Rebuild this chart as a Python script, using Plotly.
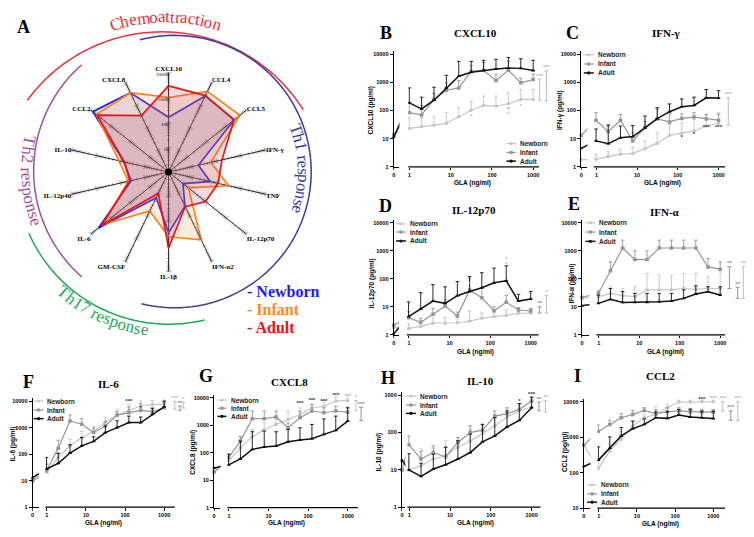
import numpy as np
import plotly.graph_objects as go

W, H = 754, 537
OFF = 8  # page body margin of the browser
FW, FH = W - OFF, H - OFF
SANS = "Liberation Sans, Arial, sans-serif"
SERIF = "Liberation Serif, Times New Roman, serif"

# ---------------- data: radar (panel A) ----------------
radar_categories = ["CXCL10", "CCL4", "CCL5", "IFN-γ", "TNF", "IL-12p70", "IFN-α2", "IL-1β",
                    "GM-CSF", "IL-6", "IL-12p40", "IL-10", "CCL2", "CXCL8"]
radar_newborn = [160, 2500, 2400, 17, 52, 5.5, 33, 280, 14, 4000, 35, 70, 7900, 3500]
radar_infant = [1000, 4000, 4600, 56, 300, 10.5, 1050, 400, 55, 2400, 46, 112, 5200, 3500]
radar_adult = [2950, 2600, 2300, 160, 110, 80, 35, 1120, 9, 2900, 40, 66, 4700, 330]
radar_ticks = [10, 100, 1000, 10000]

# ---------------- data: dose-response panels ----------------
doses = [0.98, 1.95, 3.9, 7.8, 15.6, 31.25, 62.5, 125, 250, 500, 1000]

cxcl10_newborn = [23, 27, 30, 35, 60, 102, 150, 142, 172, 245, 245]
cxcl10_newborn_top = [55, 55, 62, 83, 125, 210, 320, 320, 420, 550, 550]
cxcl10_infant = [83, 69, 245, 520, 630, 2450, 2650, 1150, 2650, 950, 1240]
cxcl10_infant_top = [190, 150, 400, 950, 1150, 4000, 5000, 1900, 5500, 1400, 1900]
cxcl10_adult = [186, 114, 230, 630, 1630, 2250, 2650, 2950, 3200, 3100, 2600]
cxcl10_adult_top = [630, 295, 665, 1770, 5500, 5500, 6000, 6500, 7500, 6800, 6000]
cxcl10_zero = [15, 13, 11]
cxcl10_stars = [(250, 108, '*', 'i'), (250, 72, '*', 'n'), (500, 142, '*', 'n'), (31.25, 63, '*', 'n')]
cxcl10_brackets = [(1430, 230, 1300, '***', 'n'), (2100, 220, 2500, '***', 'n')]

ifng_newborn = [1.86, 2.3, 2.8, 2.95, 4.4, 6.9, 13, 15.4, 18.7, 28, 35]
ifng_newborn_top = [2.8, 3.4, 4.2, 4.8, 8.3, 16, 32, 36, 48, 72, 83]
ifng_infant = [45, 17.7, 45, 8.3, 25, 50, 39, 52, 58, 50, 45]
ifng_infant_top = [83, 30, 72, 16, 40, 110, 76, 76, 83, 72, 72]
ifng_adult = [8.3, 6.6, 10.8, 11.8, 24, 51, 90, 135, 150, 280, 275]
ifng_adult_top = [22, 30, 28, 29, 63, 125, 170, 255, 295, 550, 500]
ifng_zero = [1.8, 13, 4.5]
ifng_stars = [(125, 11, '*', 'a'), (250, 14, '*', 'a'), (500, 24, '***', 'a'), (1000, 24, '***', 'a')]
ifng_brackets = [(1740, 30, 280, '***', 'n')]

il12_newborn = [1.7, 2.0, 2.6, 2.6, 2.7, 3.1, 3.9, 4.5, 4.9, 5.9, 5.9]
il12_newborn_top = [2.5, 2.8, 4.1, 4.1, 4.1, 7.1, 6, 6.5, 7.7, 8.8, 8.8]
il12_infant = [4.1, 2.8, 5.4, 10.7, 4.7, 40, 21, 7.3, 14.5, 7.7, 7.1]
il12_infant_top = [6.7, 3.9, 8.8, 17.5, 6.5, 100, 45, 10, 26, 9.4, 8.8]
il12_adult = [4.5, 8.4, 16, 13.3, 25, 35, 48, 72, 85, 16, 19]
il12_adult_top = [15, 32, 62, 52, 80, 120, 165, 240, 290, 28, 35]
il12_zero = [1.8, 2.2, 1.1]
il12_stars = [(31.25, 63, '*', 'n'), (250, 500, '*', 'n'), (250, 330, '*', 'n')]
il12_brackets = [(1660, 6, 10, '**', 'i'), (2450, 6, 25, '*', 'n')]

ifna_newborn = [23, 30, 25, 23, 40, 40, 40, 45, 42, 45, 45]
ifna_newborn_top = [40, 52, 45, 52, 155, 135, 135, 155, 155, 118, 175]
ifna_infant = [30, 192, 1260, 485, 485, 1260, 1260, 1260, 1260, 265, 220]
ifna_infant_top = [36, 400, 2400, 1000, 1000, 2400, 2400, 2400, 2400, 530, 400]
ifna_adult = [13.3, 18.5, 14.4, 14.4, 14.4, 15.2, 16, 20, 28.6, 34.6, 26.3]
ifna_adult_top = [26, 45, 35, 30, 30, 30, 30, 40, 56, 52, 52]
ifna_zero = [20, 22, 11]
ifna_stars = []
ifna_brackets = [(1690, 45, 270, '**', 'i'), (2700, 20, 50, '**', 'i'), (3730, 20, 270, '**', 'n')]

il6_newborn = [20.5, 75, 205, 420, 710, 1630, 2970, 4470, 6500, 7500, 7500]
il6_newborn_top = [31, 115, 365, 710, 1100, 2500, 4900, 7500, 10000, 10500, 10800]
il6_infant = [23.7, 168, 1780, 1330, 650, 1150, 2970, 3650, 4470, 3980, 5600]
il6_infant_top = [42, 335, 3000, 2150, 950, 1680, 4000, 6000, 8000, 5600, 9000]
il6_adult = [27.4, 45, 110, 205, 300, 650, 1000, 1550, 1550, 3160, 6000]
il6_adult_top = [75, 105, 225, 420, 450, 1150, 1800, 2700, 2500, 5300, 10000]
il6_zero = [9.5, 10, 13]
il6_stars = [(125, 9400, '***', 'a'), (250, 23000, '***', 'a'), (250, 14000, '**', 'n'),
             (500, 23000, '***', 'a'), (500, 14000, '***', 'n'), (1000, 14500, '***', 'n'), (250, 5300, '*', 'a')]
il6_brackets = [(1870, 5000, 9500, '***', 'n'), (2520, 4500, 6500, '**', 'i'), (3080, 5500, 9000, '*', 'n')]

cxcl8_newborn = [50, 150, 380, 700, 1070, 1630, 2450, 4300, 4900, 7600, 8000]
cxcl8_newborn_top = [75, 400, 700, 1230, 1630, 3300, 4300, 5700, 8000, 10800, 13000]
cxcl8_infant = [66, 265, 1730, 1730, 2000, 810, 1870, 3300, 2850, 3300, 3000]
cxcl8_infant_top = [92, 380, 3300, 3300, 3300, 1230, 3300, 5700, 4300, 4900, 4600]
cxcl8_adult = [36, 60, 132, 160, 175, 250, 290, 325, 465, 650, 1420]
cxcl8_adult_top = [87, 265, 580, 610, 580, 700, 810, 1070, 1700, 2150, 4300]
cxcl8_zero = [20, 20, 28]
cxcl8_stars = [(62.5, 6000, '***', 'a'), (125, 8000, '***', 'a'), (250, 7500, '***', 'a'),
               (500, 12500, '***', 'a'), (1000, 17000, '***', 'a'), (1000, 11000, '***', 'n')]
cxcl8_brackets = [(2180, 1500, 4500, '***', 'i'), (1630, 3500, 8000, '*', 'n')]

il10_newborn = [9.9, 12.9, 19.4, 23.7, 40, 59, 93, 150, 260, 375, 480]
il10_newborn_top = [17, 36, 38, 60, 73, 120, 165, 275, 415, 590, 690]
il10_infant = [46.6, 19.4, 29, 22.4, 54, 99, 115, 275, 318, 415, 690]
il10_infant_top = [80, 31, 44, 41, 73, 150, 150, 375, 460, 590, 880]
il10_adult = [9.9, 6.7, 10.5, 13.7, 19.4, 29, 56, 81, 141, 210, 460]
il10_adult_top = [27, 15, 26, 40, 60, 90, 165, 250, 375, 590, 880]
il10_zero = [9.5, 10, 18]
il10_stars = [(500, 690, '*', 'a'), (1000, 1040, '***', 'a')]
il10_brackets = [(1510, 380, 650, '**', 'i'), (2190, 350, 700, '**', 'n')]

ccl2_newborn = [132, 410, 880, 2100, 3550, 4400, 6800, 9800, 9800, 10000, 10000]
ccl2_newborn_top = [220, 635, 1440, 2850, 4400, 7500, 8500, 11000, 11000, 11000, 11000]
ccl2_infant = [1440, 2300, 3550, 4400, 5700, 4600, 5200, 5500, 5200, 5100, 5100]
ccl2_infant_top = [2200, 3000, 4600, 5700, 6800, 6000, 6800, 6800, 6500, 6100, 6100]
ccl2_adult = [226, 490, 1090, 1740, 2300, 3550, 3400, 4250, 3700, 3550, 3350]
ccl2_adult_top = [535, 1020, 1870, 2850, 3300, 5200, 5200, 6100, 6100, 5400, 5400]
ccl2_zero = [600, 600, 150]
ccl2_stars = [(500, 11700, '***', 'a'), (1000, 18000, '***', 'a'), (1000, 12000, '***', 'n')]
ccl2_brackets = [(1770, 5500, 10000, '***', 'n'), (2860, 3000, 5500, '***', 'i'), (4370, 3000, 10000, '***', 'n')]

panel_series = [
    (cxcl10_newborn, cxcl10_newborn_top, cxcl10_infant, cxcl10_infant_top, cxcl10_adult, cxcl10_adult_top, cxcl10_zero),
    (ifng_newborn, ifng_newborn_top, ifng_infant, ifng_infant_top, ifng_adult, ifng_adult_top, ifng_zero),
    (il12_newborn, il12_newborn_top, il12_infant, il12_infant_top, il12_adult, il12_adult_top, il12_zero),
    (ifna_newborn, ifna_newborn_top, ifna_infant, ifna_infant_top, ifna_adult, ifna_adult_top, ifna_zero),
    (il6_newborn, il6_newborn_top, il6_infant, il6_infant_top, il6_adult, il6_adult_top, il6_zero),
    (cxcl8_newborn, cxcl8_newborn_top, cxcl8_infant, cxcl8_infant_top, cxcl8_adult, cxcl8_adult_top, cxcl8_zero),
    (il10_newborn, il10_newborn_top, il10_infant, il10_infant_top, il10_adult, il10_adult_top, il10_zero),
    (ccl2_newborn, ccl2_newborn_top, ccl2_infant, ccl2_infant_top, ccl2_adult, ccl2_adult_top, ccl2_zero),
]
panel_stars = [cxcl10_stars, ifng_stars, il12_stars, ifna_stars, il6_stars, cxcl8_stars, il10_stars, ccl2_stars]
panel_brackets = [cxcl10_brackets, ifng_brackets, il12_brackets, ifna_brackets, il6_brackets,
                  cxcl8_brackets, il10_brackets, ccl2_brackets]
panel_titles = ["CXCL10", "IFN-γ", "IL-12p70", "IFN-α", "IL-6", "CXCL8", "IL-10", "CCL2"]
panel_ytitles = ["CXCL10 (pg/ml)", "IFN-γ (pg/ml)", "IL-12p70 (pg/ml)", "IFN-α (pg/ml)",
                 "IL-6 (pg/ml)", "CXCL8 (pg/ml)", "IL-10 (pg/ml)", "CCL2 (pg/ml)"]
panel_letters = ["B", "C", "D", "E", "F", "G", "H", "I"]
group_names = ["Newborn", "Infant", "Adult"]

# ---------------- layout geometry (pixels in the 754x537 picture) ----------------
geom = [
    dict(yax=392.7, ybot=167.7, ytop=54.3, ylo=0, yhi=4, x1=408.7, dx=41.3, xs=407.3, xe=538.3, xr=549, zend=398.5,
         title=(475, 33), letter=(385, 33), ytl=(370, 111), xtl=(471.7, 183.5), leg=(505.7, 515.3, 517.3, [144.3, 153.3, 162.0])),
    dict(yax=580.7, ybot=167.7, ytop=54.3, ylo=0, yhi=4, x1=596, dx=40.8, xs=593.5, xe=725, xr=733, zend=587,
         title=(666, 33), letter=(571.7, 33), ytl=(560, 111), xtl=(662.7, 183.5), leg=(583.3, 593.3, 595.7, [55, 64.3, 73.3])),
    dict(yax=392.7, ybot=336.7, ytop=224, ylo=0, yhi=4, x1=408, dx=40.7, xs=406, xe=538, xr=549, zend=398,
         title=(473.3, 211), letter=(385, 206.7), ytl=(371.7, 285), xtl=(475, 354), leg=(395, 405, 407.3, [225, 233.3, 242.3])),
    dict(yax=581.5, ybot=336.7, ytop=224, ylo=0, yhi=4, x1=598.3, dx=40.6, xs=596, xe=725, xr=747, zend=589,
         title=(665, 213.3), letter=(573.3, 205), ytl=(571.7, 285), xtl=(665, 354), leg=(585, 595, 596.7, [224, 233.3, 242.7])),
    dict(yax=30.7, ybot=510, ytop=403.3, ylo=0, yhi=4, x1=45, dx=39.2, xs=43.5, xe=173.3, xr=185, zend=37,
         title=(106.7, 386), letter=(26.7, 384), ytl=(11, 446), xtl=(101.7, 526), leg=(31.7, 41.7, 43.3, [403.3, 412.3, 421])),
    dict(yax=212.7, ybot=510.5, ytop=400, ylo=0, yhi=4, x1=227.5, dx=39.7, xs=226, xe=356.7, xr=366, zend=219,
         title=(288.3, 384), letter=(205, 378.3), ytl=(191.7, 455), xtl=(285, 526.3), leg=(216, 225, 227.3, [402.3, 410.5, 418.7])),
    dict(yax=401, ybot=510, ytop=397.3, ylo=0, yhi=3, x1=408.3, dx=40.9, xs=406.5, xe=540, xr=549, zend=404.5,
         title=(480, 382.7), letter=(386.7, 380), ytl=(378, 455), xtl=(475, 526), leg=(405, 415, 417.3, [398.3, 407.3, 415.7])),
    dict(yax=583.3, ybot=511, ytop=404, ylo=1, yhi=4, x1=598.3, dx=38.3, xs=597, xe=725, xr=741, zend=590,
         title=(660, 378.3), letter=(576.7, 378.3), ytl=(565, 455), xtl=(660, 526.7), leg=(586.7, 596.7, 599, [487.7, 496.7, 505])),
]

series_style = [dict(color="#c6c6c6", symbol="circle", width=1.2),
                dict(color="#969696", symbol="square", width=1.2),
                dict(color="#111111", symbol="triangle-up", width=1.5)]
sig_colors = {'n': '#b8b8b8', 'i': '#8a8a8a', 'a': '#333333'}


def X(px):
    return (px - OFF) / FW


def Y(py):
    return 1 - (py - OFF) / FH


fig = go.Figure()
shapes, annotations = [], []
layout = dict(width=FW, height=FH, autosize=False, margin=dict(l=0, r=0, t=0, b=0),
              paper_bgcolor="white", plot_bgcolor="rgba(0,0,0,0)", showlegend=False)

# ---------------- panel A: radar ----------------
radar_styles = [("#1d1de6", "rgba(90,80,200,0.16)"), ("#ff7f1a", "rgba(255,160,90,0.2)"),
                ("#e8151b", "rgba(180,70,110,0.2)")]
theta_closed = radar_categories + [radar_categories[0]]
for vals, (lc, fc) in zip([radar_newborn, radar_infant, radar_adult], radar_styles):
    fig.add_trace(go.Scatterpolar(r=list(vals) + [vals[0]], theta=theta_closed, mode="lines", fill="toself",
                                  fillcolor=fc, line=dict(color=lc, width=1.7), subplot="polar", hoverinfo="skip"))

tick_r = [m * 10 ** k for k in range(4) for m in range(1, 10)][1:] + [10000]
tt, rr, aa, ss = [], [], [], []
nc = len(radar_categories)
for i, c in enumerate(radar_categories):
    for r in tick_r:
        tt.append(c)
        rr.append(r)
        aa.append(i * 360.0 / nc)
        ss.append(4 if np.isclose(np.log10(r) % 1, 0) else 2.5)
fig.add_trace(go.Scatterpolar(r=rr, theta=tt, mode="markers", subplot="polar", hoverinfo="skip",
                              marker=dict(symbol="line-ew", size=ss, angle=aa, color="#333",
                                          line=dict(width=0.5, color="#333"))))
fig.add_trace(go.Scatterpolar(r=[1], theta=[radar_categories[0]], mode="markers", subplot="polar",
                              marker=dict(size=7, color="black"), hoverinfo="skip"))
fig.add_trace(go.Scatterpolar(r=radar_ticks, theta=[radar_categories[0]] * len(radar_ticks), mode="text",
                              text=[str(v) for v in radar_ticks], textposition="bottom left", subplot="polar",
                              textfont=dict(family=SERIF, size=5, color="black"), hoverinfo="skip"))

layout["polar"] = dict(
    domain=dict(x=[X(67), X(267)], y=[Y(273), Y(73)]),
    bgcolor="rgba(0,0,0,0)",
    angularaxis=dict(type="category", categoryorder="array", categoryarray=radar_categories,
                     direction="clockwise", rotation=90, showgrid=True, gridcolor="#222", gridwidth=0.8,
                     showline=False, ticks="", tickfont=dict(family=SERIF, size=7, color="black", weight="bold")),
    radialaxis=dict(type="log", range=[0, 4], showgrid=False, showline=False, ticks="", showticklabels=False),
)


def arc_path(cx, cy, r, a0, a1, n=90):
    t = np.radians(np.linspace(a0, a1, n))
    xs = cx + r * np.sin(t)
    ys = cy - r * np.cos(t)
    return "M " + " L ".join(f"{X(x):.5f},{Y(y):.5f}" for x, y in zip(xs, ys))


arcs = [((160.5, 199, 167, -54, 58), "#e8323c"),
        ((173, 172.5, 137, -14.7, 194), "#3b3b98"),
        ((173.7, 171.7, 142, 221.3, 318.7), "#a0509c"),
        ((167, 173, 153, 166.3, 246.2), "#1fa855")]
for (cx, cy, r, a0, a1), col in arcs:
    shapes.append(dict(type="path", path=arc_path(cx, cy, r, a0, a1), xref="paper", yref="paper",
                       line=dict(color=col, width=1.5)))

TW = {'C': 667, 'h': 500, 'e': 444, 'm': 778, 'o': 500, 'a': 444, 't': 278, 'r': 333, 'c': 444, 'i': 278,
      'n': 500, 'T': 611, '1': 500, '2': 500, '7': 500, ' ': 250, 's': 389, 'p': 500}


def arc_text(text, cx, cy, R, ac, size, color, inner):
    widths = [TW.get(ch, 500) * size / 1000.0 for ch in text]
    total = sum(widths)
    pos = -total / 2
    for ch, w in zip(text, widths):
        s = pos + w / 2
        pos += w
        if ch == " ":
            continue
        a = ac - np.degrees(s / R) if inner else ac + np.degrees(s / R)
        ar = np.radians(a)
        px = cx + R * np.sin(ar)
        py = cy - R * np.cos(ar)
        ta = a - 180 if inner else a
        ta = ((ta + 180) % 360) - 180
        annotations.append(dict(x=X(px), y=Y(py), xref="paper", yref="paper", text=ch, showarrow=False,
                                textangle=ta, xanchor="center", yanchor="middle",
                                font=dict(family=SERIF, size=size, color=color)))


arc_text("Chemoattraction", 164, 199, 182, 0, 17, "#e8323c", False)
arc_text("Th1 response", 173, 172, 129, 89, 17, "#3b3b98", False)
arc_text("Th2 response", 173.7, 171.7, 149, 266, 17, "#a0509c", True)
arc_text("Th17 response", 167, 173, 160, 205, 17, "#1fa855", True)

for name, ypx, col in zip(group_names, [293, 311.5, 329], ["#1a1aff", "#ff8a1a", "#ee1111"]):
    annotations.append(dict(x=X(244), y=Y(ypx), xref="paper", yref="paper", text="- " + name, showarrow=False,
                            xanchor="left", yanchor="middle", font=dict(family=SERIF, size=16, color=col, weight="bold")))
annotations.append(dict(x=X(13), y=Y(15), xref="paper", yref="paper", text="A", showarrow=False,
                        font=dict(family=SERIF, size=18, color="black", weight="bold")))

# ---------------- panels B-I ----------------
tickfont = dict(family=SANS, size=5.5, color="black", weight="bold")
for k, g in enumerate(geom):
    yid, zid, mid = k + 1, 2 * k + 1, 2 * k + 2
    ya = "y" if yid == 1 else f"y{yid}"
    xz = "x" if zid == 1 else f"x{zid}"
    xm = f"x{mid}"
    dec = (g["ybot"] - g["ytop"]) / (g["yhi"] - g["ylo"])
    pad = 3
    yvals = [10 ** i for i in range(g["ylo"], g["yhi"] + 1)]
    layout["yaxis" if yid == 1 else f"yaxis{yid}"] = dict(
        type="log", domain=[Y(g["ybot"]), Y(g["ytop"] - pad)], range=[g["ylo"], g["yhi"] + pad / dec],
        anchor=xz, showline=True, linecolor="black", linewidth=1.2, ticks="outside", ticklen=3, tickwidth=1,
        tickcolor="black", tickvals=yvals, ticktext=[str(v) for v in yvals], tickfont=tickfont,
        showgrid=False, zeroline=False)
    unit = g["x1"] - g["yax"]
    layout["xaxis" if zid == 1 else f"xaxis{zid}"] = dict(
        type="linear", domain=[X(g["yax"]), X(g["zend"])], range=[0, (g["zend"] - g["yax"]) / unit],
        anchor=ya, showline=True, linecolor="black", linewidth=1.2, ticks="outside", ticklen=2.5, tickwidth=1,
        tickvals=[0], ticktext=["0"], tickfont=tickfont, showgrid=False, zeroline=False)
    layout[f"xaxis{mid}"] = dict(
        type="log", domain=[X(g["xs"]), X(g["xr"])],
        range=[(g["xs"] - g["x1"]) / g["dx"], (g["xr"] - g["x1"]) / g["dx"]],
        anchor=ya, showline=False, ticks="outside", ticklen=2.5, tickwidth=1, tickcolor="black",
        tickvals=[1, 10, 100, 1000], ticktext=["1", "10", "100", "1000"], tickfont=tickfont,
        showgrid=False, zeroline=False)
    shapes.append(dict(type="line", xref=f"{xm} domain", yref=f"{ya} domain", x0=0,
                       x1=(g["xe"] - g["xs"]) / (g["xr"] - g["xs"]), y0=0, y1=0,
                       line=dict(color="black", width=1.2)))

    s = panel_series[k]
    for j in range(3):
        vals, tops, zero = s[2 * j], s[2 * j + 1], s[6][j]
        st = series_style[j]
        err = [t - v for t, v in zip(tops, vals)]
        fig.add_trace(go.Scatter(x=doses, y=vals, xaxis=xm, yaxis=ya, mode="lines+markers", hoverinfo="skip",
                                 line=dict(color=st["color"], width=st["width"]),
                                 marker=dict(symbol=st["symbol"], size=3.5, color=st["color"]),
                                 error_y=dict(type="data", symmetric=False, array=err, arrayminus=[0] * len(err),
                                              color=st["color"], thickness=0.9, width=1.8)))
        fig.add_trace(go.Scatter(x=[0, doses[0]], y=[zero, vals[0]], xaxis=xz, yaxis=ya, mode="lines",
                                 line=dict(color=st["color"], width=st["width"]), hoverinfo="skip"))
        fig.add_trace(go.Scatter(x=[0], y=[zero], xaxis=xz, yaxis=ya, mode="markers", cliponaxis=False,
                                 marker=dict(symbol=st["symbol"], size=3.5, color=st["color"]), hoverinfo="skip"))

    for (d, lo, hi, txt, grp) in panel_brackets[k]:
        midv = np.sqrt(lo * hi)
        col = sig_colors[grp]
        fig.add_trace(go.Scatter(x=[d], y=[midv], xaxis=xm, yaxis=ya, mode="markers", hoverinfo="skip",
                                 marker=dict(size=1, color="rgba(0,0,0,0)"),
                                 error_y=dict(type="data", symmetric=False, array=[hi - midv], arrayminus=[midv - lo],
                                              color=col, thickness=0.9, width=2)))
        fig.add_trace(go.Scatter(x=[d], y=[hi], xaxis=xm, yaxis=ya, mode="text", text=[txt], cliponaxis=False,
                                 textposition="top center", hoverinfo="skip",
                                 textfont=dict(family=SANS, size=6, color=col, weight="bold")))
    if panel_stars[k]:
        fig.add_trace(go.Scatter(x=[p[0] for p in panel_stars[k]], y=[p[1] for p in panel_stars[k]],
                                 xaxis=xm, yaxis=ya, mode="text", text=[p[2] for p in panel_stars[k]],
                                 cliponaxis=False, textposition="middle center", hoverinfo="skip",
                                 textfont=dict(family=SANS, size=6, weight="bold",
                                               color=[sig_colors[p[3]] for p in panel_stars[k]])))

    # titles and labels
    annotations.append(dict(x=X(g["title"][0]), y=Y(g["title"][1]), xref="paper", yref="paper",
                            text=panel_titles[k], showarrow=False, xanchor="center", yanchor="middle",
                            font=dict(family=SERIF, size=11, color="black", weight="bold")))
    annotations.append(dict(x=X(g["letter"][0]), y=Y(g["letter"][1]), xref="paper", yref="paper",
                            text=panel_letters[k], showarrow=False, xanchor="center", yanchor="middle",
                            font=dict(family=SERIF, size=18, color="black", weight="bold")))
    annotations.append(dict(x=X(g["ytl"][0]), y=Y(g["ytl"][1]), xref="paper", yref="paper",
                            text=panel_ytitles[k], showarrow=False, textangle=-90, xanchor="center", yanchor="middle",
                            font=dict(family=SANS, size=6.5, color="black", weight="bold")))
    annotations.append(dict(x=X(g["xtl"][0]), y=Y(g["xtl"][1]), xref="paper", yref="paper",
                            text="GLA (ng/ml)", showarrow=False, xanchor="center", yanchor="middle",
                            font=dict(family=SANS, size=6.5, color="black", weight="bold")))
    # legend
    lx0, lx1, tx, rows = g["leg"]
    for j in range(3):
        st = series_style[j]
        yy = rows[j]
        shapes.append(dict(type="line", xref="paper", yref="paper", x0=X(lx0), x1=X(lx1), y0=Y(yy), y1=Y(yy),
                           line=dict(color=st["color"], width=st["width"])))
        cxp = (lx0 + lx1) / 2
        shapes.append(dict(type="circle" if j != 1 else "rect", xref="paper", yref="paper",
                           x0=X(cxp - 1.6), x1=X(cxp + 1.6), y0=Y(yy + 1.6), y1=Y(yy - 1.6),
                           fillcolor=st["color"], line=dict(width=0)))
        annotations.append(dict(x=X(tx), y=Y(yy), xref="paper", yref="paper", text=group_names[j],
                                showarrow=False, xanchor="left", yanchor="middle",
                                font=dict(family=SANS, size=6.5, color="#222", weight="bold")))

layout["shapes"] = shapes
layout["annotations"] = annotations
fig.update_layout(**layout)
fig.write_html("out.html")
